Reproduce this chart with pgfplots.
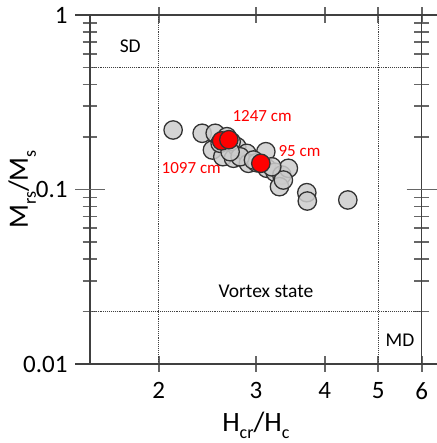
\documentclass[border=0pt]{standalone}
\usepackage{fontspec}
\setmainfont{Carlito}
\usepackage{pgfplots}
\pgfplotsset{compat=1.18}
\begin{document}
\begin{tikzpicture}
\useasboundingbox (-90pt,-79pt) rectangle (346pt,364pt);
\begin{axis}[name=ax,
  at={(0pt,0pt)}, anchor=south west,
  scale only axis, width=331.7pt, height=349pt,
  xmode=log, ymode=log,
  xmin=1.5, xmax=6, ymin=0.01, ymax=1,
  xtick={2,3,4,5,6}, xticklabels={2,3,4,5,6},
  xminorticks=false,
  ytick={0.01,0.1,1}, yticklabels={0.01,0.1,1},
  minor ytick={0.02,0.03,0.04,0.05,0.06,0.07,0.08,0.09,0.2,0.3,0.4,0.5,0.6,0.7,0.8,0.9},
  tick align=center,
  major tick length=16pt,
  minor tick length=15pt,
  every tick/.style={black!60, line width=1.8pt},
  axis line style={black!75, line width=1.3pt},
  /pgf/number format/assume math mode=true,
  ticklabel style={font=\fontsize{25}{29}\selectfont},
  xticklabel style={yshift=-7pt},
  yticklabel style={xshift=-11pt},
  xlabel={H\raisebox{-0.28em}{\fontsize{18}{18}\selectfont cr}/H\raisebox{-0.28em}{\fontsize{18}{18}\selectfont c}},
  ylabel={M\raisebox{-0.28em}{\fontsize{18}{18}\selectfont rs}/M\raisebox{-0.28em}{\fontsize{18}{18}\selectfont s}},
  label style={font=\fontsize{28}{32}\selectfont},
  xlabel style={at={(rel axis cs:0.5,0)}, anchor=base, yshift=-67pt},
  ylabel style={at={(rel axis cs:0,0.5)}, anchor=north, yshift=85pt, xshift=0pt},
]
\addplot[densely dotted, black!75, line width=0.9pt] coordinates {(2,0.01) (2,1)};
\addplot[densely dotted, black!75, line width=0.9pt] coordinates {(5,0.01) (5,1)};
\addplot[densely dotted, black!75, line width=0.9pt] coordinates {(1.5,0.5) (6,0.5)};
\addplot[densely dotted, black!75, line width=0.9pt] coordinates {(1.5,0.02) (6,0.02)};
\addplot[only marks, mark=*, mark size=9.2pt,
  mark options={fill=black!20, draw=black!80, line width=1.3pt, fill opacity=0.85}]
  coordinates {
(2.123,0.2193) (2.397,0.210) (2.531,0.210) (2.502,0.1684) (2.658,0.2008)
(2.613,0.1542) (2.732,0.151) (2.770,0.1759) (2.888,0.1612) (2.908,0.1413)
(3.012,0.1424) (3.128,0.1647) (3.141,0.1323) (3.252,0.1255) (3.344,0.121)
(3.311,0.1038) (3.437,0.1323) (3.366,0.1133) (3.712,0.0959) (3.72,0.0859)
(4.406,0.0871) (2.584,0.184) (2.706,0.188) (2.809,0.154) (2.694,0.1647)
(2.970,0.1476) (3.207,0.135)
};
\addplot[only marks, mark=*, mark size=9.2pt,
  mark options={fill=red, draw=black!80, line width=1.3pt}]
  coordinates {(2.60,0.190) (2.68,0.193) (3.063,0.1413)};
\node[font=\fontsize{19.5}{21}\selectfont] at (axis cs:1.775,0.664) {SD};
\node[font=\fontsize{19.5}{21}\selectfont] at (axis cs:3.13,0.0262) {Vortex state};
\node[font=\fontsize{19.5}{21}\selectfont] at (axis cs:5.48,0.01373) {MD};
\node[font=\fontsize{17}{19}\selectfont, text=red] at (axis cs:3.08,0.264) {1247 cm};
\node[font=\fontsize{17}{19}\selectfont, text=red] at (axis cs:3.60,0.166) {95 cm};
\node[font=\fontsize{17}{19}\selectfont, text=red] at (axis cs:2.29,0.132) {1097 cm};
\end{axis}
\draw[black!60, line width=1.8pt] (-15pt,174.5pt) -- (15pt,174.5pt);
\draw[black!60, line width=1.8pt] (316.7pt,174.5pt) -- (346.7pt,174.5pt);
\draw[black!75, line width=1.6pt] (-15pt,0pt) -- (346.7pt,0pt);
\draw[black!75, line width=1.6pt] (-15pt,349pt) -- (346.7pt,349pt);
\end{tikzpicture}
\end{document}
